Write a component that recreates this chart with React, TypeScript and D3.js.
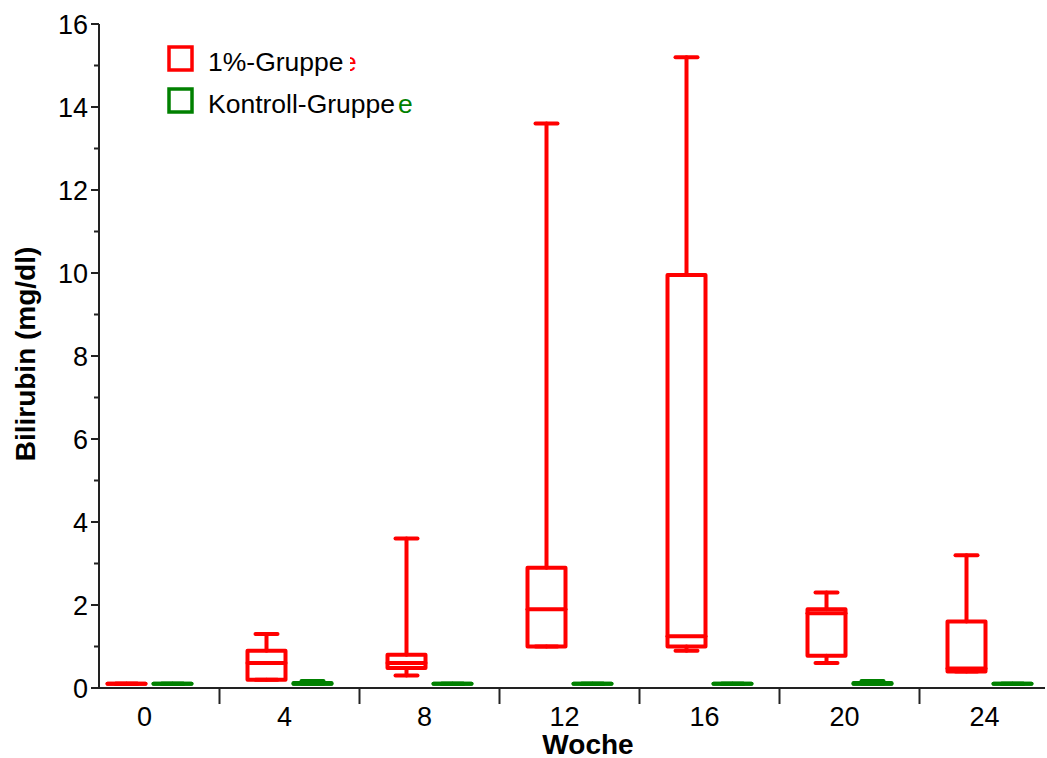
import React from "react";
import * as d3 from "d3";

const weeks = ["0", "4", "8", "12", "16", "20", "24"];
const yTicks = [0, 2, 4, 6, 8, 10, 12, 14, 16];

const redMin = [0.1, 0.2, 0.3, 1.0, 0.9, 0.6, 0.4];
const redQ1 = [0.1, 0.2, 0.48, 1.0, 1.0, 0.78, 0.4];
const redMed = [0.1, 0.6, 0.6, 1.9, 1.25, 1.8, 0.47];
const redQ3 = [0.1, 0.9, 0.8, 2.9, 9.95, 1.9, 1.6];
const redMax = [0.1, 1.3, 3.6, 13.6, 15.2, 2.3, 3.2];

const greenMin = [0.1, 0.1, 0.1, 0.1, 0.1, 0.1, 0.1];
const greenQ1 = [0.1, 0.1, 0.1, 0.1, 0.1, 0.1, 0.1];
const greenMed = [0.1, 0.1, 0.1, 0.1, 0.1, 0.1, 0.1];
const greenQ3 = [0.1, 0.12, 0.1, 0.1, 0.1, 0.12, 0.1];
const greenMax = [0.1, 0.17, 0.1, 0.1, 0.1, 0.17, 0.1];

const series = [
  { name: "1%-Gruppe", color: "#ff0000", offset: -23, min: redMin, q1: redQ1, med: redMed, q3: redQ3, max: redMax },
  { name: "Kontroll-Gruppe", color: "#008000", offset: 23, min: greenMin, q1: greenQ1, med: greenMed, q3: greenQ3, max: greenMax },
];

const FONT = "Arial, 'Liberation Sans', sans-serif";

export default function App() {
  const W = 1047, H = 758;
  const x = d3.scaleBand<string>().domain(weeks).range([79.5, 79.5 + 140 * 7]).padding(0);
  const y = d3.scaleLinear().domain([0, 16]).range([688, 24]);
  const axisX0 = 99, axisX1 = 1045;
  const boxHalf = 19, capHalf = 11;
  const minor = d3.range(1, 16, 2);

  return (
    <svg width={W} height={H} style={{ position: "fixed", left: 0, top: 0, background: "#fff" }} fontFamily={FONT}>
      {/* boxes */}
      {series.map((s) =>
        weeks.map((w, i) => {
          const cx = (x(w) as number) + x.bandwidth() / 2 + s.offset;
          const x0 = cx - boxHalf, x1 = cx + boxHalf;
          const yq1 = y(s.q1[i]), yq3 = y(s.q3[i]), ymed = y(s.med[i]);
          const ymin = y(s.min[i]), ymax = y(s.max[i]);
          return (
            <g key={s.name + w} stroke={s.color} strokeWidth={4} fill="none" strokeLinecap="round" strokeLinejoin="round">
              <line x1={cx} x2={cx} y1={yq3} y2={ymax} />
              <line x1={cx - capHalf} x2={cx + capHalf} y1={ymax} y2={ymax} />
              <line x1={cx} x2={cx} y1={yq1} y2={ymin} />
              <line x1={cx - capHalf} x2={cx + capHalf} y1={ymin} y2={ymin} />
              <path d={`M${x0},${yq3}H${x1}V${yq1}H${x0}Z`} />
              <line x1={x0} x2={x1} y1={ymed} y2={ymed} />
            </g>
          );
        })
      )}

      {/* y axis */}
      <g stroke="#222" strokeWidth={2}>
        <line x1={axisX0} x2={axisX0} y1={y(16)} y2={y(0)} />
        {yTicks.map((t) => (
          <line key={"t" + t} x1={axisX0 - 8} x2={axisX0} y1={y(t)} y2={y(t)} />
        ))}
        {minor.map((t) => (
          <line key={"m" + t} x1={axisX0 - 5} x2={axisX0} y1={y(t)} y2={y(t)} />
        ))}
      </g>
      {yTicks.map((t) => (
        <text key={"l" + t} x={88} y={y(t)} dy="0.36em" textAnchor="end" fontSize={27} fill="#000">
          {t}
        </text>
      ))}

      {/* x axis */}
      <g stroke="#222" strokeWidth={2}>
        <line x1={axisX0} x2={axisX1} y1={y(0)} y2={y(0)} />
        {weeks.slice(1).map((w) => (
          <line key={"xt" + w} x1={x(w) as number} x2={x(w) as number} y1={y(0)} y2={y(0) + 16} />
        ))}
      </g>
      {weeks.map((w) => (
        <text key={"xl" + w} x={(x(w) as number) + x.bandwidth() / 2 - 5} y={726} textAnchor="middle" fontSize={27} fill="#000">
          {w}
        </text>
      ))}

      {/* titles */}
      <text x={588} y={754} textAnchor="middle" fontSize={28} fontWeight="bold" fill="#000">Woche</text>
      <text transform="translate(35,354) rotate(-90)" textAnchor="middle" fontSize={28} fontWeight="bold" fill="#000">
        Bilirubin (mg/dl)
      </text>

      {/* legend */}
      {series.map((s, i) => {
        const ly = 47 + i * 42;
        return (
          <g key={"lg" + s.name}>
            <rect x={169} y={ly} width={23} height={23} fill="none" stroke={s.color} strokeWidth={3.5} />
            <text x={208} y={ly + 24} fontSize={26.5} fill="#000">{s.name}</text>
          </g>
        );
      })}
      <defs>
        <clipPath id="redclip">
          <rect x={350} y={40} width={10} height={40} />
        </clipPath>
      </defs>
      <text x={342} y={71} fontSize={26.5} fill="#ff0000" clipPath="url(#redclip)">e</text>
      <text x={398} y={113} fontSize={26.5} fill="#008000">e</text>
    </svg>
  );
}
